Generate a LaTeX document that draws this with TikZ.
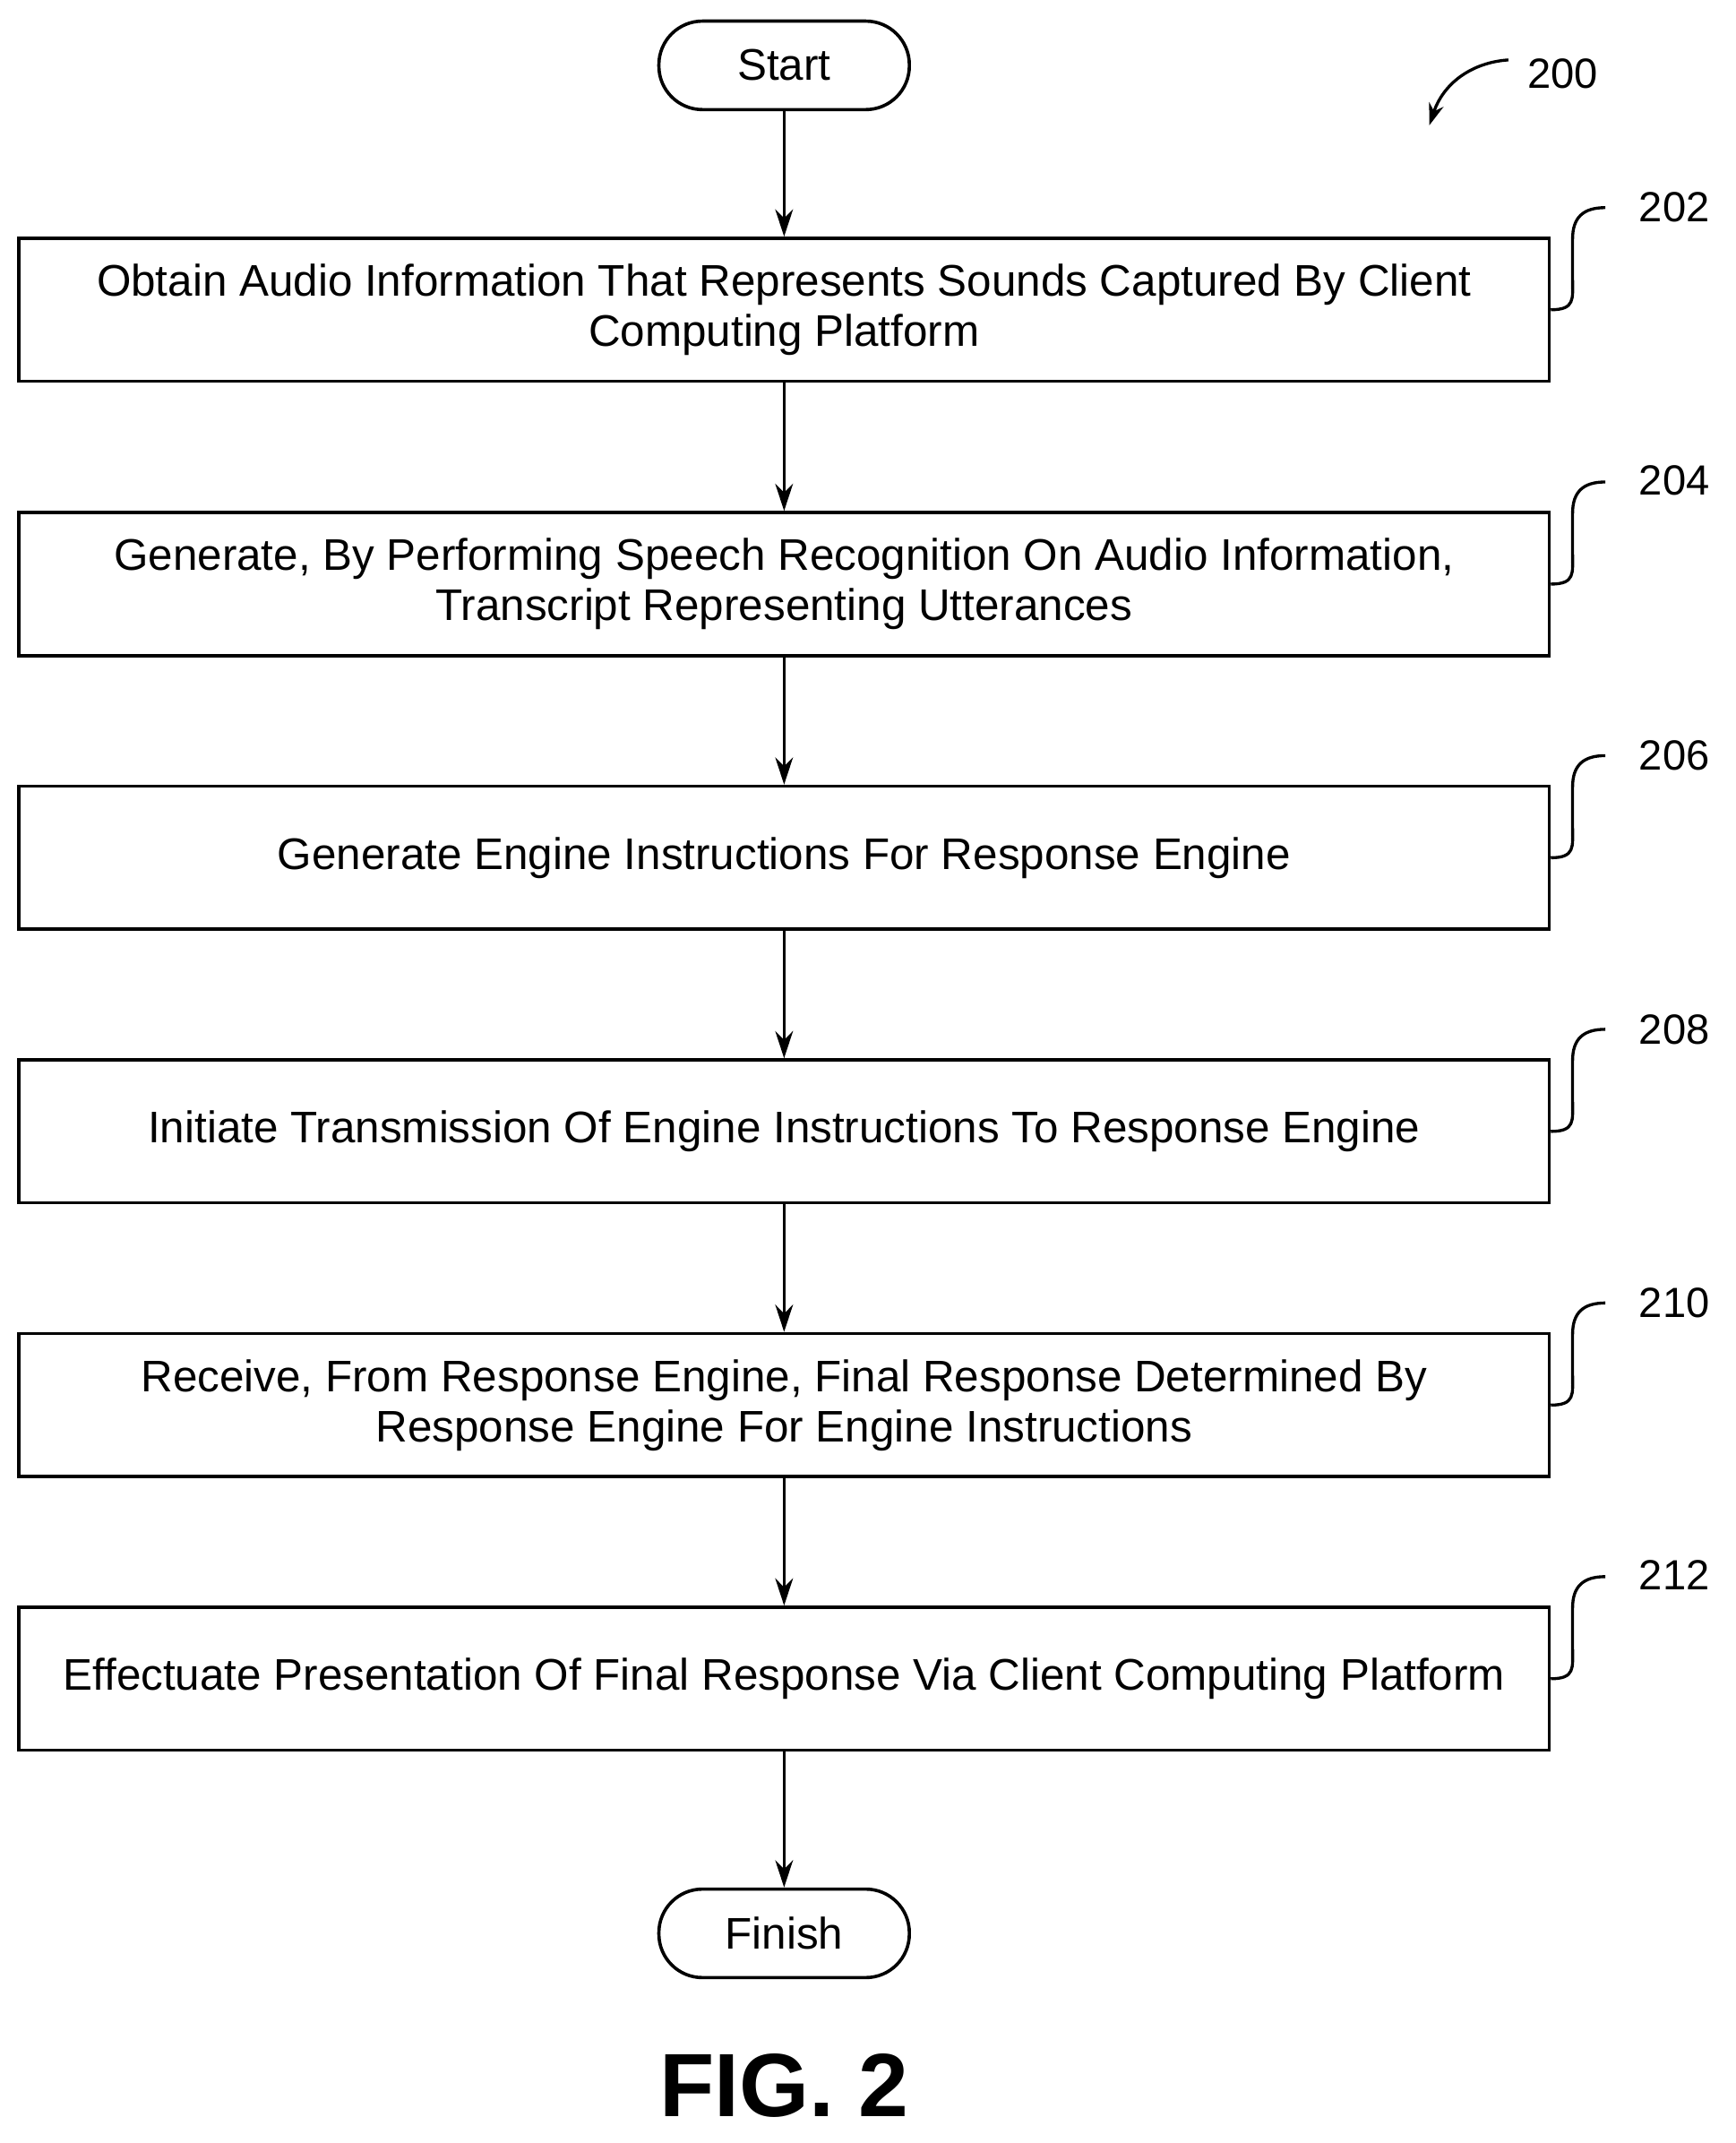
\documentclass[tikz,border=0pt]{standalone}
\usepackage{fontspec}
\setmainfont{Liberation Sans}
\usetikzlibrary{arrows.meta,calc}
\begin{document}
\begin{tikzpicture}[x=1pt,y=-1pt,
  box/.style={draw,line width=2.4pt,minimum width=1124pt,minimum height=105pt,align=center,font=\fontsize{32.5}{37}\selectfont,inner sep=0pt},
  term/.style={draw,line width=2.4pt,rounded corners=32pt,minimum width=184pt,minimum height=65pt,font=\fontsize{32.5}{37}\selectfont},
  arr/.style={line width=2.4pt,-{Stealth[length=20pt,width=13pt]}},
  hook/.style={line width=2.2pt},
  lab/.style={font=\fontsize{31}{36}\selectfont}]
\useasboundingbox (0,0) rectangle (1275,1574);
\node[term] (s) at (576,48) {Start};
\node[box] (b1) at (576,227.5) {Obtain Audio Information That Represents Sounds Captured By Client\\Computing Platform};
\node[box] (b2) at (576,429) {Generate, By Performing Speech Recognition On Audio Information,\\Transcript Representing Utterances};
\node[box] (b3) at (576,630) {Generate Engine Instructions For Response Engine};
\node[box] (b4) at (576,831) {Initiate Transmission Of Engine Instructions To Response Engine};
\node[box] (b5) at (576,1032) {Receive, From Response Engine, Final Response Determined By\\Response Engine For Engine Instructions};
\node[box] (b6) at (576,1233) {Effectuate Presentation Of Final Response Via Client Computing Platform};
\node[term] (f) at (576,1420) {Finish};
\draw[arr] (s) -- (b1);
\draw[arr] (b1) -- (b2);
\draw[arr] (b2) -- (b3);
\draw[arr] (b3) -- (b4);
\draw[arr] (b4) -- (b5);
\draw[arr] (b5) -- (b6);
\draw[arr] (b6) -- (f);
\foreach \b/\n/\y in {b1/202/152,b2/204/353,b3/206/555,b4/208/756,b5/210/957,b6/212/1157}{
  \node[lab] (l\n) at (1230,\y) {\n};
  \coordinate (c\n) at (\b.east);
  \draw[hook] (c\n) .. controls ($(c\n)+(18,0)$) and ($(c\n)+(16,-8)$) .. ($(c\n)+(16,-22)$) -- ($(c\n)+(16,-52)$) .. controls ($(c\n)+(16,-68)$) and ($(c\n)+(24,-75)$) .. ($(c\n)+(40,-75)$);
}
\node[lab] (l200) at (1148,54) {200};
\coordinate (a200) at (1108,44);
\coordinate (t200) at (1050,92);
\draw[hook,-{Stealth[length=16pt,width=11pt]}] (a200) .. controls (1080,46) and (1060,62) .. (t200);
\node[font=\bfseries\fontsize{66}{74}\selectfont] (fig) at (576,1532) {FIG. 2};
\end{tikzpicture}
\end{document}
